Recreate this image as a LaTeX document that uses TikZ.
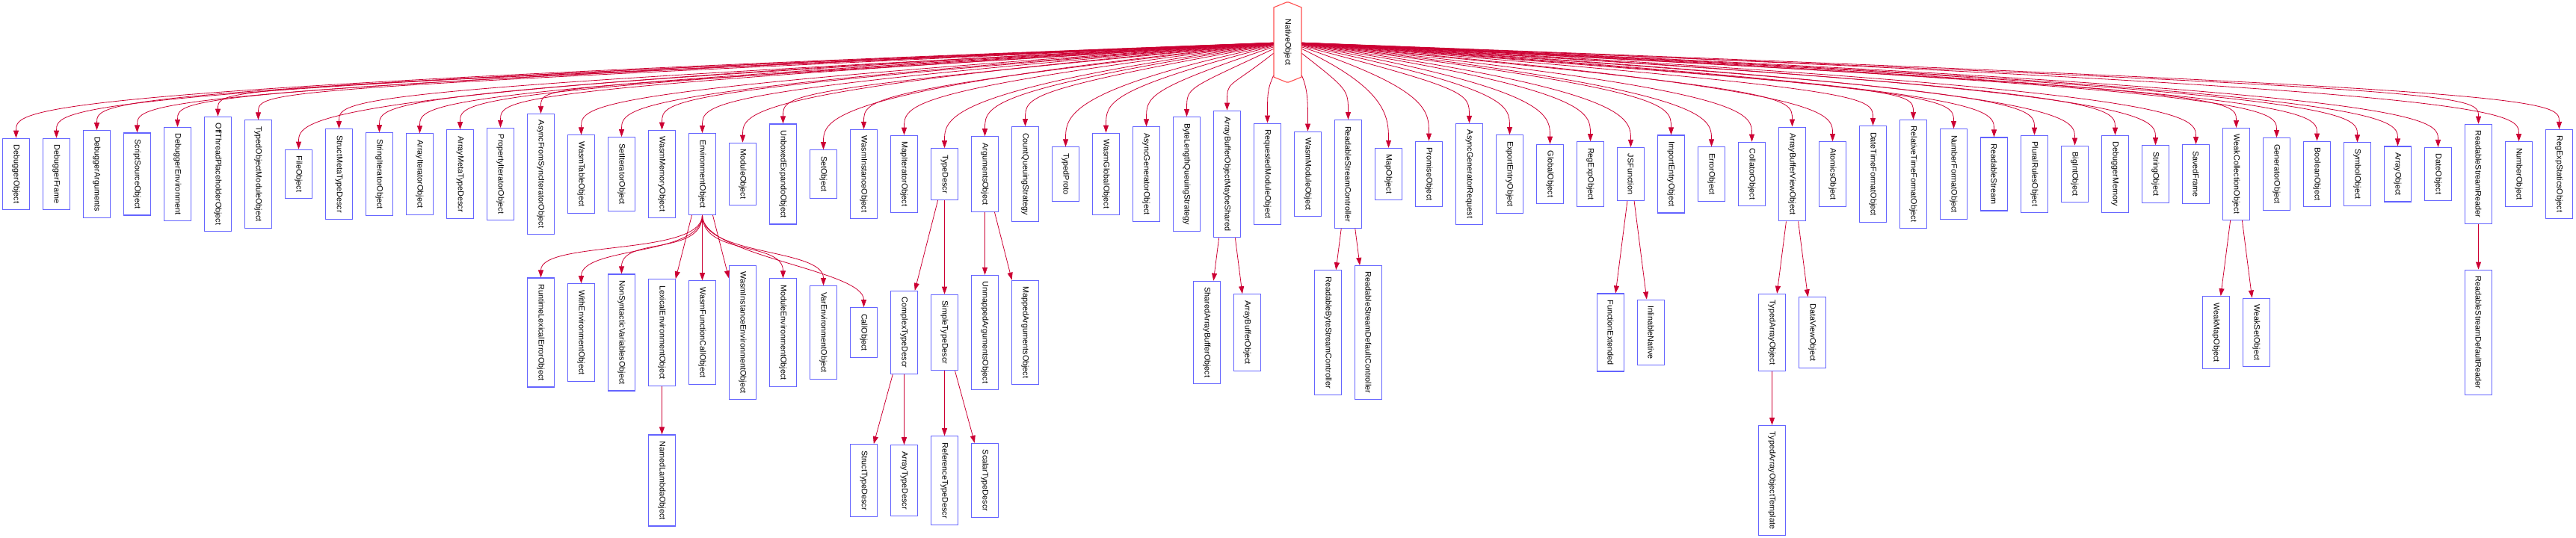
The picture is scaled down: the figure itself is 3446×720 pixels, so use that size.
\documentclass[tikz,border=0pt]{standalone}
\usepackage{fontspec}
\usepackage{graphicx}
\usetikzlibrary{shapes.misc,trees,arrows.meta}
\usepackage{xcolor}
\newfontfamily\clsfont{Liberation Sans}
\definecolor{edgered}{RGB}{204,0,51}
\definecolor{boxblue}{RGB}{100,100,255}
\definecolor{nativered}{RGB}{255,80,80}
\newcommand{\vtext}[1]{\rotatebox{-90}{#1}}

\begin{document}
\begin{tikzpicture}[
x=1pt, y=1pt,
cls/.style={
	rectangle, draw=boxblue, line width=1.1pt, fill=white,
	minimum width=36pt, inner xsep=0pt, inner ysep=8.5pt,
	font=\clsfont\fontsize{10.8}{13}\selectfont,
},
native/.style={
	chamfered rectangle, chamfered rectangle angle=68,
	chamfered rectangle xsep=12pt, chamfered rectangle ysep=30pt,
	draw=nativered, line width=1.1pt, fill=white,
	minimum width=37pt, minimum height=107pt, inner sep=0pt,
	font=\clsfont\fontsize{10.8}{13}\selectfont,
},
swing/.style={
	edge from parent path={(\tikzparentnode.south) .. controls +(0,-55) and +(0,50) .. (\tikzchildnode.north)}
},
edge from parent/.style={draw, line width=0.8pt, edgered, -{Triangle[length=10pt,width=7pt]}},
sibling distance=54pt,
level 1/.style={level distance=176.5pt,
	edge from parent path={(\tikzparentnode) .. controls (\tikzchildnode |- fan) and ([yshift=40pt]\tikzchildnode.north) .. (\tikzchildnode.north)}},
level 2/.style={level distance=212pt,
	edge from parent path={(\tikzparentnode) -- (\tikzchildnode)}},
level 3/.style={level distance=198pt},
]
\useasboundingbox (0,0) rectangle (3446,-720);
\coordinate (fan) at (0,-120);
\node[native] (nativeobj) at (1722.5,-56.5) {\vtext{NativeObject}}
    child {node[cls] (dbgobj) {\vtext{DebuggerObject}}}
    child {node[cls] (dbgframe) {\vtext{DebuggerFrame}}}
    child {node[cls] (dbgargs) {\vtext{DebuggerArguments}}}
    child {node[cls] (scriptsrc) {\vtext{ScriptSourceObject}}}
    child {node[cls] (dbgenv) {\vtext{DebuggerEnvironment}}}
    child {node[cls] (offthread) {\vtext{OffThreadPlaceholderObject}}}
    child {node[cls] (typedobjmod) {\vtext{TypedObjectModuleObject}}}
    child {node[cls] (fileobj) {\vtext{FileObject}}}
    child {node[cls] (structmeta) {\vtext{StructMetaTypeDescr}}}
    child {node[cls] (striter) {\vtext{StringIteratorObject}}}
    child {node[cls] (arriter) {\vtext{ArrayIteratorObject}}}
    child {node[cls] (arrmeta) {\vtext{ArrayMetaTypeDescr}}}
    child {node[cls] (propiter) {\vtext{PropertyIteratorObject}}}
    child {node[cls] (asyncfromsync) {\vtext{AsyncFromSyncIteratorObject}}}
    child {node[cls] (wasmtable) {\vtext{WasmTableObject}}}
    child {node[cls] (setiter) {\vtext{SetIteratorObject}}}
    child {node[cls] (wasmmem) {\vtext{WasmMemoryObject}}}
    child {node[cls] (envobj) {\vtext{EnvironmentObject}}
        child[swing] {node[cls] (rtlexerr) {\vtext{RuntimeLexicalErrorObject}}}
        child[swing] {node[cls] (withenv) {\vtext{WithEnvironmentObject}}}
        child[swing] {node[cls] (nonsyntactic) {\vtext{NonSyntacticVariablesObject}}}
        child {node[cls] (lexenv) {\vtext{LexicalEnvironmentObject}}
            child {node[cls] (namedlambda) {\vtext{NamedLambdaObject}}}
        }
        child {node[cls] (wasmfncall) {\vtext{WasmFunctionCallObject}}}
        child {node[cls] (wasminstenv) {\vtext{WasmInstanceEnvironmentObject}}}
        child[swing] {node[cls] (modenv) {\vtext{ModuleEnvironmentObject}}}
        child[swing] {node[cls] (varenv) {\vtext{VarEnvironmentObject}}}
        child[swing] {node[cls] (callobj) {\vtext{CallObject}}}
    }
    child {node[cls] (modobj) {\vtext{ModuleObject}}}
    child {node[cls] (unboxed) {\vtext{UnboxedExpandoObject}}}
    child {node[cls] (setobj) {\vtext{SetObject}}}
    child {node[cls] (wasminst) {\vtext{WasmInstanceObject}}}
    child {node[cls] (mapiter) {\vtext{MapIteratorObject}}}
    child {node[cls] (typedescr) {\vtext{TypeDescr}}
        child {node[cls] (complextd) {\vtext{ComplexTypeDescr}}
            child {node[cls] (structtd) {\vtext{StructTypeDescr}}}
            child {node[cls] (arraytd) {\vtext{ArrayTypeDescr}}}
            child[missing]
        }
        child {node[cls] (simpletd) {\vtext{SimpleTypeDescr}}
            child[missing]
            child {node[cls] (reftd) {\vtext{ReferenceTypeDescr}}}
            child {node[cls] (scalartd) {\vtext{ScalarTypeDescr}}}
        }
        child[missing]
    }
    child {node[cls] (argsobj) {\vtext{ArgumentsObject}}
        child[missing]
        child {node[cls] (unmappedargs) {\vtext{UnmappedArgumentsObject}}}
        child {node[cls] (mappedargs) {\vtext{MappedArgumentsObject}}}
    }
    child {node[cls] (countqs) {\vtext{CountQueuingStrategy}}}
    child {node[cls] (typedproto) {\vtext{TypedProto}}}
    child {node[cls] (wasmglobal) {\vtext{WasmGlobalObject}}}
    child {node[cls] (asyncgen) {\vtext{AsyncGeneratorObject}}}
    child {node[cls] (bytelenqs) {\vtext{ByteLengthQueuingStrategy}}}
    child {node[cls] (abmaybeshared) {\vtext{ArrayBufferObjectMaybeShared}}
        child {node[cls] (sharedab) {\vtext{SharedArrayBufferObject}}}
        child {node[cls] (abobj) {\vtext{ArrayBufferObject}}}
    }
    child {node[cls] (reqmod) {\vtext{RequestedModuleObject}}}
    child {node[cls] (wasmmod) {\vtext{WasmModuleObject}}}
    child {node[cls] (rsctrl) {\vtext{ReadableStreamController}}
        child {node[cls] (rsbytectrl) {\vtext{ReadableByteStreamController}}}
        child {node[cls] (rsdefctrl) {\vtext{ReadableStreamDefaultController}}}
    }
    child {node[cls] (mapobj) {\vtext{MapObject}}}
    child {node[cls] (promise) {\vtext{PromiseObject}}}
    child {node[cls] (asyncgenreq) {\vtext{AsyncGeneratorRequest}}}
    child {node[cls] (exportentry) {\vtext{ExportEntryObject}}}
    child {node[cls] (globalobj) {\vtext{GlobalObject}}}
    child {node[cls] (regexp) {\vtext{RegExpObject}}}
    child {node[cls] (jsfun) {\vtext{JSFunction}}
        child {node[cls] (fnext) {\vtext{FunctionExtended}}}
        child {node[cls] (inlnative) {\vtext{InlinableNative}}}
    }
    child {node[cls] (importentry) {\vtext{ImportEntryObject}}}
    child {node[cls] (errorobj) {\vtext{ErrorObject}}}
    child {node[cls] (collator) {\vtext{CollatorObject}}}
    child {node[cls] (abview) {\vtext{ArrayBufferViewObject}}
        child {node[cls] (typedarr) {\vtext{TypedArrayObject}}
            child {node[cls] (typedarrtpl) {\vtext{TypedArrayObjectTemplate}}}
        }
        child {node[cls] (dataview) {\vtext{DataViewObject}}}
    }
    child {node[cls] (atomics) {\vtext{AtomicsObject}}}
    child {node[cls] (dtformat) {\vtext{DateTimeFormatObject}}}
    child {node[cls] (rtformat) {\vtext{RelativeTimeFormatObject}}}
    child {node[cls] (numformat) {\vtext{NumberFormatObject}}}
    child {node[cls] (rstream) {\vtext{ReadableStream}}}
    child {node[cls] (pluralrules) {\vtext{PluralRulesObject}}}
    child {node[cls] (bigint) {\vtext{BigIntObject}}}
    child {node[cls] (dbgmem) {\vtext{DebuggerMemory}}}
    child {node[cls] (strobj) {\vtext{StringObject}}}
    child {node[cls] (savedframe) {\vtext{SavedFrame}}}
    child {node[cls] (weakcoll) {\vtext{WeakCollectionObject}}
        child {node[cls] (weakmap) {\vtext{WeakMapObject}}}
        child {node[cls] (weakset) {\vtext{WeakSetObject}}}
    }
    child {node[cls] (genobj) {\vtext{GeneratorObject}}}
    child {node[cls] (boolobj) {\vtext{BooleanObject}}}
    child {node[cls] (symobj) {\vtext{SymbolObject}}}
    child {node[cls] (arrobj) {\vtext{ArrayObject}}}
    child {node[cls] (dateobj) {\vtext{DateObject}}}
    child {node[cls] (rsreader) {\vtext{ReadableStreamReader}}
        child {node[cls] (rsdefreader) {\vtext{ReadableStreamDefaultReader}}}
    }
    child {node[cls] (numobj) {\vtext{NumberObject}}}
    child {node[cls] (regexpstatics) {\vtext{RegExpStaticsObject}}}
;
\end{tikzpicture}
\end{document}
